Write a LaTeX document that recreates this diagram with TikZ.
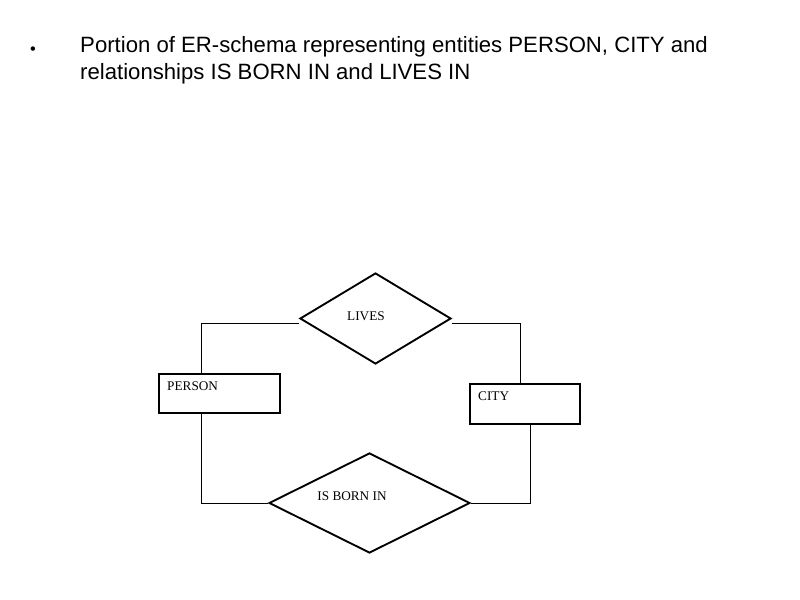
\documentclass[tikz,border=0pt]{standalone}
\usepackage{fontspec}
\setmainfont{Liberation Serif}
\newfontfamily\titlefont{Liberation Sans}
\usetikzlibrary{shapes.geometric}

\tikzset{
  entity/.style={draw, line width=1.6pt, rectangle, inner sep=0pt},
  relation/.style={draw, line width=1.6pt, diamond, inner sep=0pt},
  erlabel/.style={inner sep=0pt, font=\fontsize{11.3}{13}\selectfont},
  titletext/.style={inner sep=0pt, font=\titlefont\fontsize{18.9}{23.5}\selectfont},
  link/.style={line width=0.5pt}
}

\begin{document}
\begin{tikzpicture}[x=0.03cm, y=-0.03cm]
\useasboundingbox (0,0) rectangle (800,600);

% Title
\node[titletext, anchor=center, font=\titlefont\fontsize{14}{16}\selectfont] (bullet) at (33,51) {\textbullet};
\node[titletext, anchor=base west, align=left] (title) at (80,80)
  {Portion of ER-schema representing entities PERSON, CITY and\\relationships IS BORN IN and LIVES IN};

% Draw the entities
\node[entity, minimum width=3.63cm, minimum height=1.17cm] (person) at (219.5,393.5) {};
\node[entity, minimum width=3.3cm, minimum height=1.2cm] (city) at (525,404) {};
\node[erlabel, anchor=north west] (personlbl) at (167,382) {PERSON};
\node[erlabel, anchor=north west] (citylbl) at (478,392) {CITY};

% Draw the relationships
\node[relation, minimum width=4.53cm, minimum height=2.73cm] (lives) at (375.5,318.5) {};
\node[relation, minimum width=6.03cm, minimum height=3cm] (born) at (369.5,503) {};
\node[erlabel] (liveslbl) at (366,316) {LIVES};
\node[erlabel] (bornlbl) at (352,496) {IS BORN IN};

% Connectors
\coordinate (pn) at ([xshift=-0.555cm]person.north);
\coordinate (ps) at ([xshift=-0.555cm]person.south);
\coordinate (cn) at ([xshift=-0.15cm]city.north);
\coordinate (cs) at ([xshift=0.15cm]city.south);
\draw[link] ([yshift=-0.15cm]lives.west) -| (pn);
\draw[link] ([yshift=-0.15cm]lives.east) -| (cn);
\draw[link] (ps) |- (born.west);
\draw[link] (cs) |- (born.east);
\end{tikzpicture}
\end{document}
